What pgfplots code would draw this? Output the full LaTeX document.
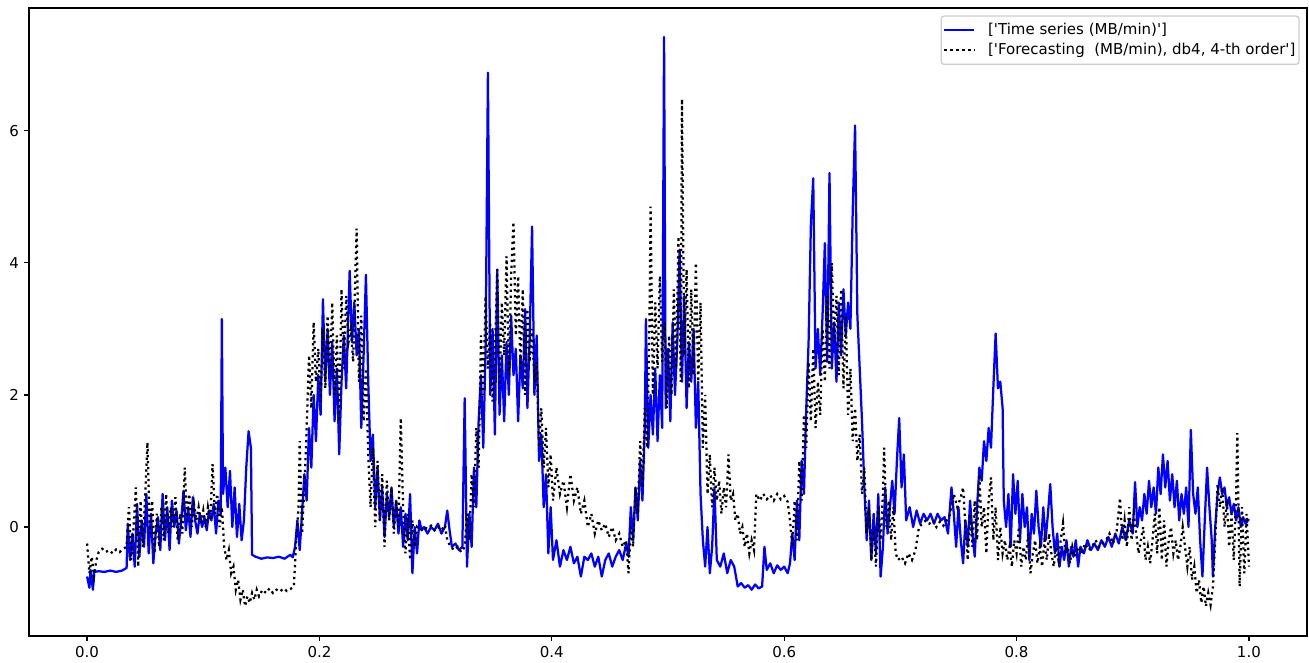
\documentclass[border=0pt]{standalone}
\usepackage{fontspec}
\setmainfont{DejaVu Sans}[Ligatures=TeXOff]
\usepackage{pgfplots}
\pgfplotsset{compat=1.18}
\begin{document}
\begin{tikzpicture}
\begin{axis}[
  scale only axis, width=919.7pt, height=451.9pt,
  xmin=-0.05, xmax=1.05, ymin=-1.65, ymax=7.86,
  xtick={0,0.2,0.4,0.6,0.8,1.0},
  xticklabels={0.0,0.2,0.4,0.6,0.8,1.0},
  ytick={0,2,4,6},
  yticklabels={0,2,4,6},
  tick align=outside, tick pos=left, major tick length=3.77pt,
  every tick/.style={black, line width=0.86pt},
  axis line style={line width=0.86pt},
  ticklabel style={font=\fontsize{10.8}{13}\selectfont},
  /pgf/number format/assume math mode=true,
  legend cell align=left,
  legend style={at={(1,1)}, anchor=north east, xshift=-5.4pt, yshift=-5.4pt,
    draw=black!20, rounded corners=2pt, fill=white, line width=0.86pt,
    font=\fontsize{10.8}{13}\selectfont, inner xsep=1.5pt, inner ysep=3.8pt,
    row sep=1.7pt, nodes={inner xsep=1pt, inner ysep=1.5pt},
    /tikz/every odd column/.append style={column sep=8pt}},
  legend image code/.code={\draw[#1] (0pt,0pt) -- (21.6pt,0pt);},
  clip=true,
]
\addplot[blue, line width=1.62pt, line join=round, mark=none] coordinates {
(0.000,-0.75)(0.002,-0.92)(0.003,-0.65)(0.005,-0.95)(0.006,-0.68)(0.010,-0.67)(0.015,-0.68)(0.020,-0.66)(0.025,-0.68)(0.030,-0.66)(0.034,-0.62)
(0.035,0.05)(0.037,-0.5)(0.039,-0.1)(0.041,-0.6)(0.043,0.35)(0.045,-0.45)(0.047,0.1)(0.049,-0.3)(0.051,0.5)(0.053,-0.4)(0.055,0.2)(0.057,-0.55)
(0.059,-0.1)(0.061,0.15)(0.063,-0.35)(0.065,0.5)(0.067,-0.2)(0.069,0.3)(0.071,-0.35)(0.073,0.4)(0.075,0.0)(0.077,0.25)(0.079,-0.25)(0.081,0.1)
(0.083,0.55)(0.085,-0.05)(0.087,0.3)(0.089,-0.15)(0.091,0.45)(0.093,0.1)(0.095,-0.1)(0.097,0.2)(0.099,0.0)(0.101,0.15)(0.103,-0.05)(0.105,0.25)
(0.107,0.1)(0.109,0.35)(0.111,-0.1)(0.113,0.4)(0.115,0.2)(0.116,3.15)(0.117,0.5)(0.119,0.9)(0.121,0.3)(0.123,0.85)(0.125,0.0)(0.127,0.6)
(0.129,-0.15)(0.131,0.35)(0.133,-0.2)(0.135,0.1)(0.137,0.9)(0.139,1.45)(0.141,1.2)(0.142,-0.42)(0.145,-0.45)(0.150,-0.48)(0.155,-0.46)
(0.160,-0.47)(0.165,-0.45)(0.170,-0.48)(0.175,-0.42)(0.177,-0.46)(0.179,-0.3)(0.181,0.1)(0.183,-0.35)(0.185,0.2)(0.187,0.8)(0.189,0.4)
(0.191,1.5)(0.193,0.9)(0.195,2.0)(0.197,1.3)(0.199,2.3)(0.201,1.7)(0.203,3.45)(0.205,2.2)(0.207,3.0)(0.209,2.0)(0.211,2.8)(0.213,1.6)
(0.215,2.4)(0.217,1.1)(0.219,2.2)(0.221,2.9)(0.223,2.1)(0.225,3.3)(0.226,3.88)(0.228,2.8)(0.230,3.4)(0.232,2.6)(0.234,3.0)(0.236,1.5)
(0.238,2.6)(0.240,3.82)(0.242,2.2)(0.244,1.0)(0.246,1.4)(0.248,0.3)(0.250,0.9)(0.252,0.1)(0.254,0.6)(0.256,-0.15)(0.258,0.5)(0.260,0.15)
(0.262,0.6)(0.264,0.0)(0.266,0.4)(0.268,-0.1)(0.270,0.3)(0.272,-0.3)(0.274,0.2)(0.276,-0.2)(0.278,0.5)(0.280,-0.7)(0.282,0.0)(0.284,-0.4)
(0.286,0.1)(0.288,-0.05)(0.290,0.0)(0.293,-0.1)(0.296,0.0)(0.299,-0.05)(0.302,0.05)(0.305,-0.1)(0.308,0.0)(0.310,0.25)(0.312,-0.05)
(0.314,-0.3)(0.317,-0.25)(0.320,-0.35)(0.323,-0.3)(0.325,1.95)(0.327,-0.6)(0.329,0.2)(0.331,-0.3)(0.333,0.9)(0.335,0.3)(0.337,1.6)
(0.339,2.3)(0.341,1.2)(0.343,2.7)(0.345,6.88)(0.347,2.0)(0.349,3.0)(0.351,1.4)(0.353,3.9)(0.355,1.7)(0.357,2.6)(0.359,1.6)(0.361,2.8)
(0.363,2.0)(0.365,3.2)(0.367,2.3)(0.369,2.7)(0.371,1.6)(0.373,2.6)(0.375,2.1)(0.377,3.3)(0.379,1.8)(0.381,2.9)(0.383,4.55)(0.385,2.0)
(0.387,2.9)(0.389,1.0)(0.391,1.4)(0.393,0.3)(0.395,0.8)(0.397,-0.4)(0.399,0.3)(0.401,-0.5)(0.404,-0.2)(0.407,-0.6)(0.410,-0.35)(0.413,-0.5)
(0.416,-0.3)(0.419,-0.55)(0.422,-0.45)(0.425,-0.75)(0.428,-0.45)(0.431,-0.5)(0.434,-0.4)(0.437,-0.6)(0.440,-0.45)(0.443,-0.75)(0.446,-0.5)
(0.449,-0.4)(0.452,-0.6)(0.455,-0.45)(0.458,-0.35)(0.461,-0.5)(0.464,-0.25)(0.466,-0.45)(0.468,0.3)(0.470,-0.2)(0.472,0.6)(0.474,0.1)
(0.476,1.0)(0.478,0.4)(0.480,1.5)(0.481,3.15)(0.483,1.2)(0.485,2.0)(0.487,1.4)(0.489,2.4)(0.491,1.3)(0.493,2.3)(0.495,1.5)(0.4966,7.42)
(0.498,1.8)(0.500,2.7)(0.502,1.6)(0.504,3.1)(0.506,2.0)(0.508,2.8)(0.510,4.2)(0.512,2.2)(0.514,3.5)(0.516,1.8)(0.518,2.8)(0.520,2.2)
(0.522,3.0)(0.524,1.5)(0.526,2.2)(0.528,0.5)(0.530,-0.2)(0.532,-0.6)(0.534,0.0)(0.536,-0.7)(0.538,-0.3)(0.540,0.6)(0.542,-0.5)(0.545,-0.6)
(0.548,-0.4)(0.551,-0.7)(0.554,-0.5)(0.557,-0.6)(0.560,-0.9)(0.563,-0.85)(0.566,-0.92)(0.569,-0.88)(0.572,-0.95)(0.575,-0.87)(0.578,-0.93)
(0.581,-0.9)(0.583,-0.3)(0.585,-0.65)(0.588,-0.55)(0.591,-0.7)(0.594,-0.58)(0.597,-0.65)(0.600,-0.6)(0.603,-0.7)(0.605,-0.55)(0.607,-0.1)
(0.609,-0.5)(0.611,0.4)(0.613,-0.2)(0.615,1.0)(0.617,0.5)(0.619,1.8)(0.621,2.8)(0.623,4.6)(0.625,5.28)(0.627,2.4)(0.629,3.0)(0.631,2.3)
(0.633,3.2)(0.635,4.3)(0.637,2.5)(0.639,5.36)(0.641,2.4)(0.643,3.1)(0.645,2.2)(0.647,3.4)(0.649,2.6)(0.651,3.6)(0.653,2.9)(0.655,3.4)
(0.657,3.0)(0.659,4.8)(0.661,6.08)(0.663,3.2)(0.665,2.4)(0.667,1.6)(0.669,0.6)(0.671,-0.2)(0.673,0.4)(0.675,-0.5)(0.677,0.2)(0.679,-0.4)
(0.681,0.5)(0.683,-0.75)(0.685,-0.3)(0.687,0.6)(0.689,-0.1)(0.691,0.3)(0.693,0.7)(0.695,0.2)(0.697,1.0)(0.699,1.65)(0.701,0.6)(0.703,1.1)
(0.705,0.1)(0.708,0.3)(0.711,0.0)(0.714,0.25)(0.717,0.05)(0.720,0.2)(0.723,0.1)(0.726,0.2)(0.729,0.05)(0.732,0.2)(0.735,0.1)(0.738,0.15)
(0.741,-0.1)(0.744,0.6)(0.746,0.2)(0.748,-0.3)(0.750,0.3)(0.752,-0.2)(0.754,-0.55)(0.756,0.1)(0.758,-0.3)(0.760,0.4)(0.762,-0.1)(0.764,-0.45)
(0.766,0.3)(0.768,0.9)(0.770,0.7)(0.772,1.3)(0.774,1.0)(0.776,1.5)(0.778,1.2)(0.780,2.1)(0.782,2.93)(0.784,2.1)(0.786,2.2)(0.788,1.8)
(0.789,0.4)(0.791,0.0)(0.793,0.5)(0.795,-0.3)(0.797,0.8)(0.799,0.2)(0.801,0.7)(0.803,-0.2)(0.805,0.5)(0.807,0.0)(0.809,0.3)(0.811,-0.5)
(0.813,0.2)(0.815,-0.1)(0.817,0.55)(0.819,0.0)(0.821,-0.3)(0.823,0.3)(0.825,-0.2)(0.827,0.2)(0.829,0.65)(0.831,0.0)(0.833,-0.4)(0.835,-0.1)
(0.837,-0.6)(0.839,-0.3)(0.841,-0.5)(0.843,-0.2)(0.845,-0.6)(0.847,-0.3)(0.849,-0.45)(0.851,-0.2)(0.853,-0.6)(0.855,-0.3)(0.858,-0.4)
(0.861,-0.2)(0.864,-0.35)(0.867,-0.25)(0.870,-0.35)(0.873,-0.2)(0.876,-0.3)(0.879,-0.15)(0.882,-0.3)(0.885,-0.1)(0.888,-0.25)(0.891,0.0)
(0.894,-0.2)(0.897,0.1)(0.900,-0.1)(0.902,0.68)(0.904,0.0)(0.906,0.3)(0.908,0.1)(0.910,0.5)(0.912,0.2)(0.914,0.7)(0.916,0.3)(0.918,0.6)
(0.920,0.2)(0.922,0.9)(0.924,0.5)(0.926,1.1)(0.928,0.6)(0.930,1.0)(0.932,0.4)(0.934,0.8)(0.936,0.3)(0.938,0.7)(0.940,0.1)(0.942,0.5)
(0.944,0.2)(0.946,0.6)(0.948,0.0)(0.950,1.47)(0.952,0.5)(0.954,0.2)(0.956,0.6)(0.958,-0.2)(0.960,-0.75)(0.962,0.1)(0.964,0.9)(0.966,0.3)
(0.968,-0.2)(0.969,-0.75)(0.971,0.0)(0.973,0.5)(0.975,0.75)(0.977,0.5)(0.979,0.6)(0.981,0.3)(0.983,0.45)(0.985,0.2)(0.987,0.35)(0.989,0.1)
(0.991,0.3)(0.993,0.0)(0.995,0.15)(0.997,0.05)(1.000,0.12)
};
\addlegendentry{[\textquotesingle Time series (MB/min)\textquotesingle]}
\addplot[black, line width=1.62pt, dash pattern=on 1.62pt off 2.67pt, mark=none] coordinates {
(0.000,-0.25)(0.002,-0.7)(0.004,-0.45)(0.006,-0.75)(0.008,-0.5)(0.010,-0.38)(0.013,-0.33)(0.016,-0.38)(0.019,-0.35)(0.022,-0.4)(0.025,-0.34)
(0.028,-0.38)(0.031,-0.33)(0.034,-0.3)(0.036,0.3)(0.038,-0.5)(0.040,0.0)(0.042,0.6)(0.044,-0.6)(0.046,0.4)(0.048,-0.3)(0.050,0.5)(0.052,1.28)
(0.054,-0.1)(0.056,0.4)(0.058,-0.4)(0.060,0.2)(0.062,-0.3)(0.064,0.3)(0.066,-0.2)(0.068,0.5)(0.070,-0.1)(0.072,0.3)(0.074,0.0)(0.076,0.45)
(0.078,-0.2)(0.080,0.2)(0.082,-0.1)(0.084,0.9)(0.086,0.1)(0.088,0.5)(0.090,0.0)(0.092,0.35)(0.094,0.1)(0.096,0.3)(0.098,0.05)(0.100,0.25)
(0.102,0.0)(0.104,0.3)(0.106,0.1)(0.108,0.95)(0.110,0.2)(0.112,0.5)(0.114,0.0)(0.116,0.3)(0.118,-0.3)(0.120,-0.5)(0.122,-0.35)(0.124,-0.7)
(0.126,-0.6)(0.128,-0.95)(0.130,-0.8)(0.132,-1.1)(0.134,-0.95)(0.136,-1.2)(0.138,-1.05)(0.140,-1.15)(0.142,-1.0)(0.144,-1.1)(0.146,-0.95)
(0.148,-1.05)(0.151,-0.95)(0.154,-1.0)(0.157,-0.93)(0.160,-1.0)(0.163,-0.95)(0.166,-0.98)(0.169,-0.93)(0.172,-0.97)(0.175,-0.94)(0.178,-0.9)
(0.180,-0.2)(0.182,0.3)(0.183,1.3)(0.185,-0.1)(0.187,0.6)(0.189,1.5)(0.191,2.6)(0.193,1.8)(0.195,3.1)(0.197,2.2)(0.199,2.7)(0.201,1.9)
(0.203,3.0)(0.205,2.1)(0.207,3.2)(0.209,2.3)(0.211,3.4)(0.213,2.0)(0.215,2.9)(0.217,1.6)(0.219,3.6)(0.221,2.4)(0.223,3.5)(0.225,2.8)
(0.227,3.0)(0.229,2.5)(0.231,3.9)(0.232,4.52)(0.234,2.2)(0.236,3.2)(0.238,1.6)(0.240,2.4)(0.242,1.1)(0.244,0.3)(0.246,1.2)(0.248,0.0)
(0.250,1.0)(0.252,0.1)(0.254,0.8)(0.256,-0.3)(0.258,0.7)(0.260,0.1)(0.262,0.6)(0.264,-0.1)(0.266,0.4)(0.268,0.0)(0.270,1.65)(0.272,0.3)
(0.274,-0.4)(0.276,0.2)(0.278,-0.5)(0.280,0.1)(0.282,-0.3)(0.284,0.0)(0.287,-0.05)(0.290,0.0)(0.293,-0.03)(0.296,0.02)(0.299,-0.05)
(0.302,0.0)(0.305,-0.05)(0.308,0.03)(0.310,-0.2)(0.313,-0.3)(0.316,-0.35)(0.319,-0.3)(0.322,-0.38)(0.325,-0.3)(0.327,0.2)(0.329,-0.2)
(0.331,0.8)(0.333,0.3)(0.335,1.5)(0.337,0.9)(0.339,2.9)(0.341,2.0)(0.343,3.5)(0.345,2.4)(0.347,3.1)(0.349,1.9)(0.351,2.6)(0.353,3.9)
(0.355,2.1)(0.357,3.4)(0.359,2.6)(0.361,4.1)(0.363,2.3)(0.365,3.8)(0.367,4.62)(0.369,2.9)(0.371,3.8)(0.373,2.4)(0.375,3.6)(0.377,2.0)
(0.379,3.3)(0.381,2.5)(0.383,3.0)(0.385,2.2)(0.387,2.5)(0.389,1.2)(0.391,1.8)(0.393,0.9)(0.395,1.5)(0.397,0.6)(0.399,1.1)(0.401,0.4)
(0.404,0.9)(0.407,0.5)(0.410,0.7)(0.413,0.3)(0.416,0.8)(0.419,0.4)(0.422,0.6)(0.425,0.2)(0.428,0.4)(0.431,0.0)(0.434,0.2)(0.437,-0.1)
(0.440,0.1)(0.443,-0.05)(0.446,0.05)(0.449,-0.15)(0.452,0.0)(0.455,-0.2)(0.458,-0.1)(0.461,-0.3)(0.464,-0.2)(0.466,-0.7)(0.468,0.0)
(0.470,-0.3)(0.472,0.6)(0.474,0.2)(0.476,1.3)(0.478,0.6)(0.480,1.8)(0.482,1.2)(0.484,3.0)(0.485,4.85)(0.487,2.0)(0.489,3.4)(0.491,2.4)
(0.493,3.8)(0.495,2.5)(0.497,3.1)(0.499,1.8)(0.501,2.9)(0.503,2.0)(0.505,3.6)(0.507,2.4)(0.509,4.4)(0.511,2.2)(0.512,6.48)(0.514,2.6)
(0.516,3.9)(0.518,2.1)(0.520,3.6)(0.522,2.3)(0.524,4.0)(0.526,2.2)(0.528,3.4)(0.530,1.2)(0.532,2.0)(0.534,0.5)(0.536,1.1)(0.538,0.3)
(0.540,0.9)(0.542,0.4)(0.544,0.7)(0.546,0.2)(0.548,0.6)(0.550,0.3)(0.552,1.1)(0.554,0.4)(0.556,0.5)(0.558,0.1)(0.560,0.2)(0.562,-0.1)
(0.564,0.0)(0.566,-0.3)(0.568,-0.1)(0.570,-0.4)(0.572,-0.2)(0.574,-0.35)(0.576,0.5)(0.579,0.4)(0.582,0.5)(0.585,0.42)(0.588,0.48)(0.591,0.4)
(0.594,0.5)(0.597,0.42)(0.600,0.47)(0.603,0.38)(0.605,0.1)(0.607,-0.3)(0.609,0.4)(0.611,-0.2)(0.613,1.0)(0.615,0.4)(0.617,1.7)(0.619,1.2)
(0.621,2.5)(0.623,1.6)(0.625,2.7)(0.627,1.5)(0.629,2.2)(0.631,1.7)(0.633,3.0)(0.635,2.2)(0.637,3.5)(0.639,2.4)(0.641,4.0)(0.643,2.8)
(0.645,3.5)(0.647,2.3)(0.649,3.6)(0.651,2.1)(0.653,3.2)(0.655,1.7)(0.657,2.4)(0.659,1.3)(0.661,1.8)(0.663,1.0)(0.665,1.4)(0.667,0.5)
(0.669,0.9)(0.671,-0.1)(0.673,0.3)(0.675,-0.5)(0.677,0.0)(0.679,-0.6)(0.681,0.3)(0.683,-0.2)(0.685,0.5)(0.686,1.2)(0.688,0.0)(0.690,0.4)
(0.692,-0.2)(0.694,0.3)(0.696,-0.4)(0.698,-0.5)(0.701,-0.45)(0.704,-0.55)(0.707,-0.4)(0.710,-0.5)(0.713,-0.35)(0.716,0.0)(0.719,0.05)
(0.722,0.1)(0.725,0.05)(0.728,0.1)(0.731,0.0)(0.734,0.08)(0.737,0.02)(0.740,0.1)(0.743,0.2)(0.746,0.5)(0.749,0.3)(0.752,0.45)(0.754,0.6)
(0.756,0.0)(0.758,-0.5)(0.760,0.2)(0.762,-0.3)(0.764,0.4)(0.766,-0.2)(0.768,0.8)(0.770,0.0)(0.772,0.3)(0.774,-0.4)(0.776,0.4)(0.778,0.75)
(0.780,-0.2)(0.782,0.3)(0.784,-0.5)(0.786,0.0)(0.788,-0.4)(0.790,-0.2)(0.792,-0.5)(0.794,-0.3)(0.796,-0.6)(0.798,-0.2)(0.800,-0.4)(0.802,0.0)
(0.804,-0.6)(0.806,-0.3)(0.808,-0.5)(0.810,-0.1)(0.812,-0.7)(0.814,-0.4)(0.816,-0.2)(0.818,-0.55)(0.820,-0.3)(0.822,-0.6)(0.824,-0.2)
(0.826,-0.5)(0.828,-0.1)(0.830,-0.4)(0.832,-0.6)(0.834,-0.3)(0.836,-0.5)(0.838,-0.2)(0.840,0.06)(0.842,-0.4)(0.844,-0.3)(0.846,-0.55)
(0.848,-0.3)(0.850,-0.45)(0.853,-0.3)(0.856,-0.4)(0.859,-0.25)(0.862,-0.35)(0.865,-0.3)(0.868,-0.2)(0.871,-0.3)(0.874,-0.25)(0.877,-0.2)
(0.880,-0.1)(0.883,-0.25)(0.886,-0.1)(0.889,0.44)(0.891,-0.2)(0.893,0.1)(0.895,-0.3)(0.897,0.3)(0.899,-0.2)(0.901,0.2)(0.903,-0.1)
(0.905,-0.4)(0.907,-0.2)(0.909,0.0)(0.911,-0.5)(0.913,-0.3)(0.915,-0.55)(0.917,-0.2)(0.919,0.2)(0.921,-0.4)(0.923,0.3)(0.925,-0.5)
(0.927,0.1)(0.929,-0.6)(0.931,-0.2)(0.933,0.0)(0.935,-0.4)(0.937,-0.2)(0.939,-0.5)(0.941,-0.3)(0.943,0.0)(0.945,-0.3)(0.947,-0.6)
(0.949,-0.3)(0.951,-0.8)(0.953,-0.6)(0.955,-1.0)(0.957,-0.8)(0.959,-1.15)(0.961,-0.9)(0.963,-1.2)(0.965,-1.0)(0.967,-1.18)(0.969,-0.9)
(0.971,-0.2)(0.973,0.65)(0.975,0.3)(0.977,0.6)(0.979,0.0)(0.981,0.4)(0.983,-0.3)(0.985,0.2)(0.987,-0.5)(0.989,0.5)(0.990,1.42)(0.992,-0.9)
(0.994,0.3)(0.996,-0.7)(0.998,0.2)(1.000,-0.6)
};
\addlegendentry{[\textquotesingle Forecasting~ (MB/min), db4, 4-th order\textquotesingle]}
\coordinate (bbsw) at (rel axis cs:0,0);
\coordinate (bbne) at (rel axis cs:1,1);
\end{axis}
\pgfresetboundingbox
\path ([shift={(-20.87pt,-19.43pt)}]bbsw) rectangle ([shift={(1.44pt,5.76pt)}]bbne);
\end{tikzpicture}
\end{document}
